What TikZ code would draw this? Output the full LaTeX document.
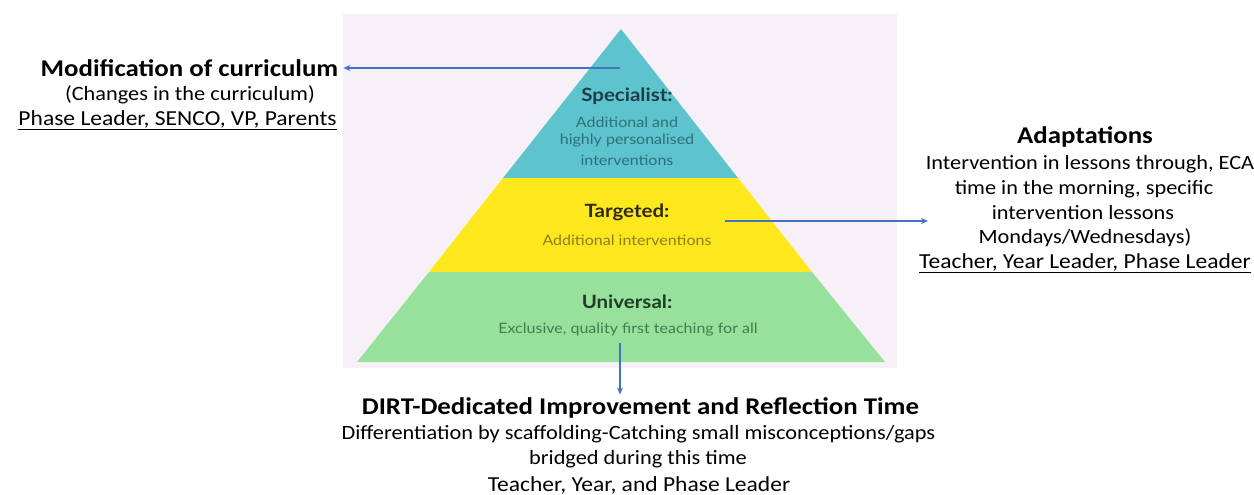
\documentclass[tikz,border=0pt]{standalone}
\usepackage{fontspec}
\setmainfont{Carlito}[FakeStretch=1.1]
\newfontfamily\titlefont{Carlito}[FakeStretch=1.12]
\newfontfamily\pyrfont{Lato}[FakeStretch=1.12]
\usetikzlibrary{arrows.meta}
\definecolor{bgpink}{HTML}{F8F0F7}
\definecolor{bandcyan}{HTML}{5DC3CD}
\definecolor{bandyellow}{HTML}{FDE81E}
\definecolor{bandgreen}{HTML}{98E19C}
\definecolor{arrowblue}{HTML}{4472C4}
\definecolor{cyandark}{HTML}{1E3D47}
\definecolor{cyansub}{HTML}{2F6F7C}
\definecolor{yelldark}{HTML}{2E2A12}
\definecolor{yellsub}{HTML}{8C7E1C}
\definecolor{greendark}{HTML}{1F3D25}
\definecolor{greensub}{HTML}{3F7D4B}
\tikzset{
  title/.style={inner sep=0pt, font=\titlefont\fontsize{24}{26}\selectfont\bfseries, text=black},
  body/.style={inner sep=0pt, font=\fontsize{20.3}{23}\selectfont, text=black},
  bodywide/.style={inner sep=0pt, font=\fontsize{21.4}{23}\selectfont, text=black},
  pyrhead/.style={inner sep=0pt, font=\pyrfont\fontsize{18.3}{20}\selectfont\bfseries},
  pyrsub/.style={inner sep=0pt, font=\pyrfont\fontsize{14.3}{16}\selectfont},
  conn/.style={arrowblue, line width=1.4pt, -{Stealth[length=7pt,width=6pt]}}
}
\begin{document}
\begin{tikzpicture}[x=1pt,y=-1pt]
\useasboundingbox (0,0) rectangle (1254,495);
% background and pyramid
\fill[bgpink] (343,14) rectangle (897,368);
\fill[bandcyan] (621,29) -- (738,178) -- (503,178) -- cycle;
\fill[bandyellow] (503,178) -- (738,178) -- (812,272) -- (429,272) -- cycle;
\fill[bandgreen] (429,272) -- (812,272) -- (885,362) -- (357,362) -- cycle;
% pyramid labels
\node[pyrhead, text=cyandark] (spech) at (627,96) {Specialist:};
\node[pyrsub, text=cyansub] (spec1) at (627,122) {Additional and};
\node[pyrsub, text=cyansub] (spec2) at (627,141) {highly personalised};
\node[pyrsub, text=cyansub] (spec3) at (627,160) {interventions};
\node[pyrhead, text=yelldark] (targh) at (627,212) {Targeted:};
\node[pyrsub, text=yellsub] (targ1) at (627,240) {Additional interventions};
\node[pyrhead, text=greendark] (unih) at (627,302) {Universal:};
\node[pyrsub, text=greensub] (uni1) at (628,330) {Exclusive, quality first teaching for all};
% anchors for connectors
\coordinate (specin) at (620,68);
\coordinate (targin) at (725,221);
\coordinate (uniin) at (620,343);
% left block
\node[title] (modt) at (189.5,68) {Modification of curriculum};
\node[body] (mod1) at (190,95) {(Changes in the curriculum)};
\node[bodywide] (mod2) at (177.5,120) {\underline{Phase Leader, SENCO, VP, Parents}};
% right block
\node[title] (adt) at (1085,137) {Adaptations};
\node[body] (ad1) at (1090,164) {Intervention in lessons through, ECA};
\node[body] (ad2) at (1084,189) {time in the morning, specific};
\node[body] (ad3) at (1083,213) {intervention lessons};
\node[body] (ad4) at (1085,238) {Mondays/Wednesdays)};
\node[bodywide] (ad5) at (1085,263) {\underline{Teacher, Year Leader, Phase Leader}};
\coordinate (adin) at (928,221);
% bottom block
\node[title] (dirt) at (640.5,408) {DIRT-Dedicated Improvement and Reflection Time};
\node[body] (dirt1) at (638.5,434) {Differentiation by scaffolding-Catching small misconceptions/gaps};
\node[body] (dirt2) at (638,459) {bridged during this time};
\node[bodywide] (dirt3) at (639,485) {Teacher, Year, and Phase Leader};
% connectors
\draw[conn] (specin) -- ([xshift=5pt]modt.east);
\draw[conn] (targin) -- (adin);
\draw[conn] (uniin) -- ([yshift=3pt]uniin |- dirt.north);
\end{tikzpicture}
\end{document}
